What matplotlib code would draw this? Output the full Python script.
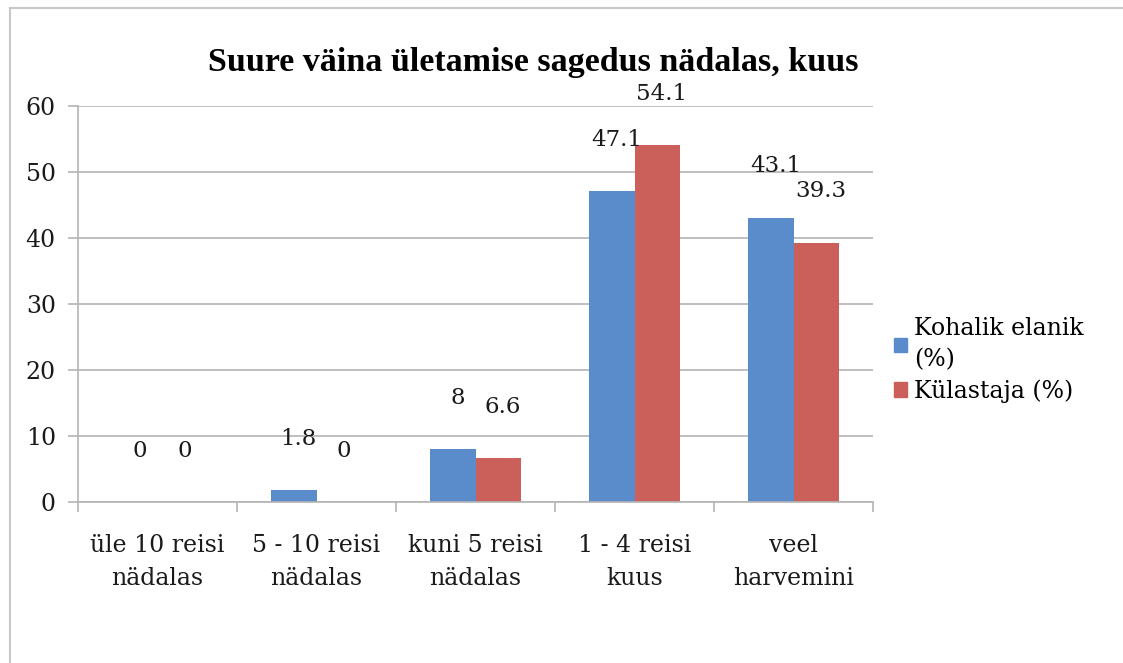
import numpy as np
import matplotlib
matplotlib.use('Agg')
import matplotlib.pyplot as plt
from matplotlib.lines import Line2D
from matplotlib.patches import Patch

categories = ['üle 10 reisi\nnädalas', '5 - 10 reisi\nnädalas', 'kuni 5 reisi\nnädalas',
              '1 - 4 reisi\nkuus', 'veel\nharvemini']
kohalik = [0, 1.8, 8, 47.1, 43.1]
kulastaja = [0, 0, 6.6, 54.1, 39.3]
series_names = ['Kohalik elanik\n(%)', 'Külastaja (%)']
title = 'Suure väina ületamise sagedus nädalas, kuus'

blue = '#5A8BCA'
red = '#CB5F5A'
grid_c = '#B4B4B4'
txt_c = '#1a1a1a'

plt.rcParams['font.family'] = ['DejaVu Serif']

fig = plt.figure(figsize=(11.23, 6.63), dpi=100)
ax = fig.add_axes([78 / 1123, 1 - 502 / 663, 795 / 1123, 396 / 663])

x = np.arange(len(categories))
w = 1 / 3.5
b1 = ax.bar(x - w / 2, kohalik, w, color=blue, zorder=2)
b2 = ax.bar(x + w / 2, kulastaja, w, color=red, zorder=2)

for bars, vals in [(b1, kohalik), (b2, kulastaja)]:
    for b, v in zip(bars, vals):
        ax.annotate('{:g}'.format(v), (b.get_x() + b.get_width() / 2 + 0.03, v),
                    xytext=(0, 37), textcoords='offset points',
                    ha='center', va='center', fontsize=16.5, color=txt_c)

ax.set_xlim(-0.5, len(categories) - 0.5)
ax.set_ylim(0, 60)
ax.set_yticks(range(0, 61, 10))
ax.yaxis.grid(True, color=grid_c, lw=1.2)
ax.set_axisbelow(True)
for s in ['top', 'right']:
    ax.spines[s].set_visible(False)
ax.spines['left'].set_color(grid_c)
ax.spines['bottom'].set_color(grid_c)
ax.spines['left'].set_linewidth(1.2)
ax.spines['bottom'].set_linewidth(1.2)

ax.tick_params(axis='y', length=7, color=grid_c, width=1.2, pad=9, labelsize=17, labelcolor=txt_c)
ax.set_xticks(x)
ax.set_xticklabels(categories, fontsize=17, color=txt_c, linespacing=1.55)
ax.tick_params(axis='x', which='major', length=0, pad=23)
ax.set_xticks(np.arange(-0.5, len(categories), 1), minor=True)
ax.tick_params(axis='x', which='minor', length=7, color=grid_c, width=1.2)

fig.text(533 / 1123, 1 - 62 / 663, title, ha='center', va='center',
         fontsize=24.5, fontweight='bold', family='Liberation Serif')

handles = [Patch(color=blue), Patch(color=red)]
leg = fig.legend(handles, series_names, loc='center left', bbox_to_anchor=(882 / 1123, 1 - 360 / 663),
                 frameon=False, fontsize=17, handlelength=0.55, handleheight=0.55,
                 handletextpad=0.3, labelspacing=0.35, borderpad=0)
for t in leg.get_texts():
    t.set_linespacing(1.45)

fig.add_artist(Line2D([10 / 1123, 10 / 1123], [0, 1 - 8 / 663], color='#C8C8C8', lw=1.5))
fig.add_artist(Line2D([10 / 1123, 1], [1 - 8 / 663, 1 - 8 / 663], color='#C8C8C8', lw=1.5))

fig.savefig('out.png', dpi=100, facecolor='white')
